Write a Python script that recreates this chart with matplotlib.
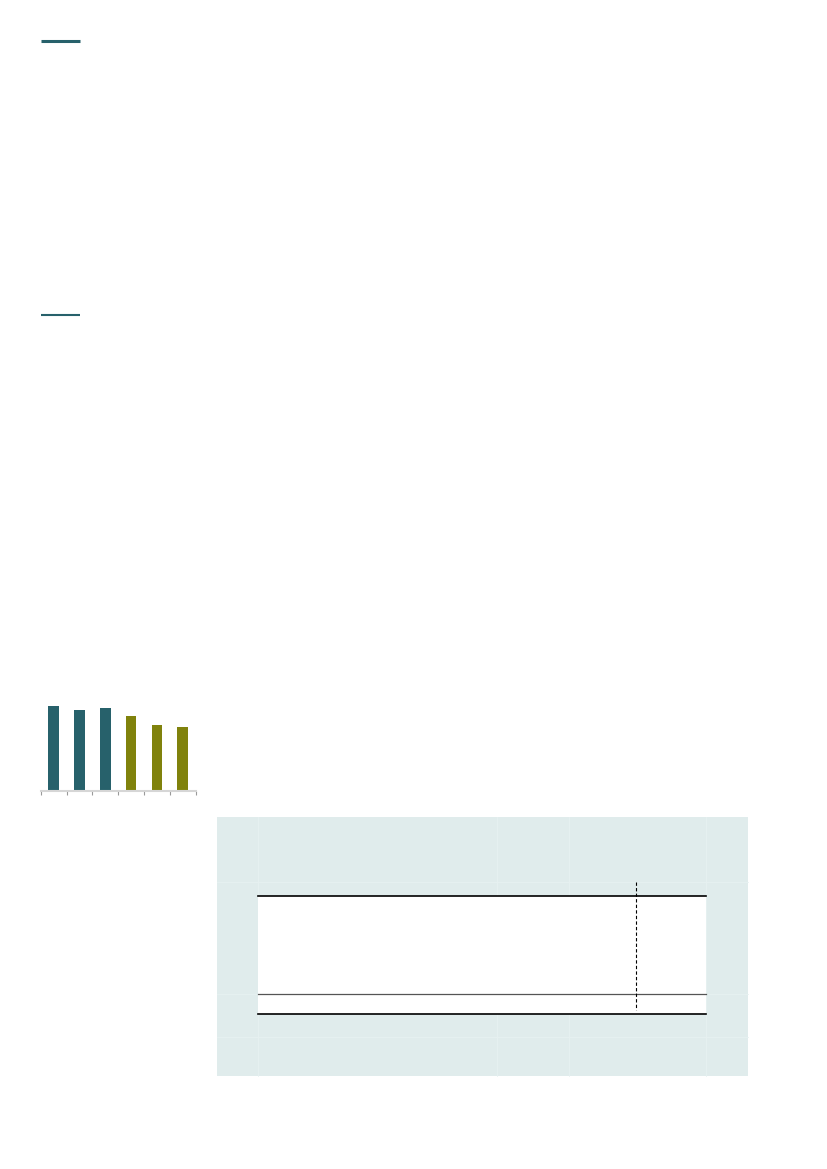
import numpy as np
import matplotlib
matplotlib.use("Agg")
import matplotlib.pyplot as plt
from matplotlib.patches import Rectangle

# 페이지 크기 (px)
W, H = 827, 1169
DPI = 100

# 막대 차트 데이터
categories = ["1", "2", "3", "4", "5", "6"]
values = [84.7, 80.3, 82.3, 74.3, 66.0, 63.7]
bar_colors = ["#27616b", "#27616b", "#27616b", "#80820c", "#80820c", "#80820c"]

TEAL = "#27616b"
BOX = "#e0ecec"
BOX_GRID = "#e7f1f1"


def px_axes(fig, x0, y0, x1, y1):
    # 픽셀 좌표(왼쪽 위 기준) -> figure 비율
    return fig.add_axes([x0 / W, 1 - y1 / H, (x1 - x0) / W, (y1 - y0) / H])


fig = plt.figure(figsize=(W / DPI, H / DPI), dpi=DPI)
fig.patch.set_facecolor("white")

# 페이지 오버레이 (장식선, 표 상자)
page = fig.add_axes([0, 0, 1, 1])
page.set_xlim(0, W)
page.set_ylim(H, 0)
page.axis("off")

# 제목 구분선
page.plot([41, 80], [41, 41], color=TEAL, lw=2.2, solid_capstyle="butt")
page.plot([41, 80], [315, 315], color=TEAL, lw=1.5, solid_capstyle="butt")

# 표 배경 상자
page.add_patch(Rectangle((216.7, 816.7), 747.7 - 216.7, 1076 - 816.7,
                         facecolor=BOX, edgecolor="none", zorder=0.1))
for gx in [258.3, 497, 569, 706]:
    page.plot([gx, gx], [816.7, 1076], color=BOX_GRID, lw=0.6, zorder=0.2)
for gy in [881.7, 994.3, 1036.7]:
    page.plot([216.7, 747.7], [gy, gy], color=BOX_GRID, lw=0.6, zorder=0.2)

# 표 본문 (흰 영역)
page.add_patch(Rectangle((258.3, 896.3), 706 - 258.3, 1014.3 - 896.3,
                         facecolor="white", edgecolor="none", zorder=1))
page.plot([258.3, 706], [896.3, 896.3], color="black", lw=1.2, zorder=2)
page.plot([258.3, 706], [994.3, 994.3], color="#555555", lw=0.9, zorder=2)
page.plot([258.3, 706], [1014.3, 1014.3], color="black", lw=1.2, zorder=2)
page.plot([636.3, 636.3], [882, 1010], color="black", lw=0.8,
          linestyle=(0, (3, 2)), zorder=2)

# 막대 차트
ax = px_axes(fig, 40.7, 690.7, 195.7, 790.7)
x = np.arange(len(categories))
ax.bar(x, values, width=0.41, color=bar_colors, edgecolor="none")
ax.set_xlim(-0.5, len(categories) - 0.5)
ax.set_ylim(0, 100)
ax.set_xticks(np.arange(len(categories) + 1) - 0.5)
ax.set_xticklabels([])
ax.set_yticks([])
ax.tick_params(axis="x", length=3, width=0.8, color="#9a9a9a")
for s in ["top", "right", "left"]:
    ax.spines[s].set_visible(False)
ax.spines["bottom"].set_color("#d6d6d6")
ax.spines["bottom"].set_linewidth(1.5)
ax.patch.set_alpha(0)

fig.savefig("out.png", dpi=DPI, facecolor="white")
